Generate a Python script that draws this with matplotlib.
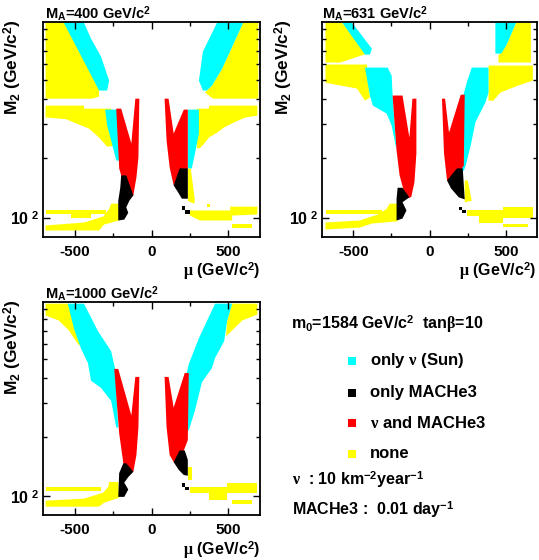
import matplotlib.pyplot as plt
from matplotlib.patches import Rectangle
from matplotlib.ticker import FixedLocator, FixedFormatter, NullFormatter

plt.rcParams['font.family'] = ['Liberation Sans', 'DejaVu Sans']
plt.rcParams['font.weight'] = 'bold'
plt.rcParams['mathtext.fontset'] = 'custom'
plt.rcParams['mathtext.rm'] = 'Liberation Sans:bold'
plt.rcParams['mathtext.bf'] = 'Liberation Sans:bold'
plt.rcParams['mathtext.sf'] = 'Liberation Sans:bold'
plt.rcParams['mathtext.it'] = 'Liberation Serif'

CYAN = '#00ffff'
BLACK = '#000000'
RED = '#ff0000'
YELLOW = '#ffff00'

# regions in the (mu, M2) plane, GeV/c2
# M_A = 400
ma400_none = [
    [(-688, 972), (-537, 972), (-341, 451), (-341, 411), (-386, 401), (-688, 401)],
    [(-688, 370), (-439, 370), (-439, 357), (-262, 357), (-236, 232), (-288, 229),
     (-341, 255), (-406, 283), (-557, 316), (-688, 322)],
    [(-262, 118), (-216, 118), (-210, 97), (-308, 92.5), (-341, 86.3), (-688, 86.3),
     (-688, 91.5), (-439, 94.7), (-314, 101.5), (-275, 111)],
    [(-688, 109), (-295, 109), (-295, 105), (-393, 105), (-393, 100.3), (-524, 100.3),
     (-524, 105), (-688, 105)],
    [(596, 972), (694, 972), (694, 401), (400, 401), (347, 431), (393, 467), (459, 569)],
    [(373, 370), (688, 370), (688, 329), (609, 322), (544, 306), (472, 287), (426, 270),
     (373, 255), (341, 237), (314, 225), (295, 225), (295, 357), (373, 357)],
    [(236, 178), (255, 178), (282, 122), (275, 118), (236, 122)],
    [(360, 118), (380, 118), (380, 113), (360, 113)],
    [(511, 114), (688, 114), (688, 104), (524, 102.7), (524, 97), (314, 97),
     (249, 102.7), (249, 109), (511, 109)],
    [(524, 93.6), (655, 93.6), (655, 89.3), (524, 89.3)],
]
ma400_sun = [
    [(-570, 972), (-439, 972), (-393, 807), (-328, 655), (-275, 495), (-288, 441),
     (-341, 441), (-374, 495)],
    [(-301, 353), (-223, 353), (-203, 195), (-229, 195), (-262, 246), (-288, 293)],
    [(426, 972), (596, 972), (459, 569), (393, 467), (360, 441), (334, 441), (308, 495),
     (334, 694)],
    [(236, 353), (308, 353), (308, 267), (282, 211), (262, 178), (236, 178)],
]
ma400_both = [
    [(-229, 357), (-197, 357), (-131, 238), (-105, 401), (-79, 401), (-85, 202),
     (-98, 160), (-118, 130), (-131, 127), (-197, 164), (-210, 178)],
    [(85, 401), (111, 401), (144, 267), (210, 353), (236, 353), (236, 178),
     (183, 170), (144, 146), (118, 180), (98, 246)],
]
ma400_mache3 = [
    [(-197, 164), (-164, 164), (-118, 130), (-144, 122), (-164, 113), (-151, 106),
     (-177, 98), (-216, 97), (-216, 122), (-203, 142)],
    [(183, 178), (236, 178), (236, 125), (197, 125), (177, 133), (144, 146)],
    [(197, 115), (216, 115), (216, 110), (197, 110)],
    [(216, 110), (249, 110), (249, 105), (216, 105)],
]

# M_A = 631
ma631_none = [
    [(-682, 972), (-572, 972), (-410, 678), (-585, 611), (-682, 611)],
    [(-682, 597), (-410, 597), (-391, 406), (-423, 392), (-475, 451), (-682, 483)],
    [(-261, 118), (-209, 118), (-209, 96), (-378, 93.6), (-456, 89.3), (-682, 87.3),
     (-682, 94.7), (-456, 97), (-339, 104), (-281, 111)],
    [(-682, 110), (-313, 110), (-313, 105), (-682, 105)],
    [(568, 972), (665, 972), (665, 611), (452, 611), (452, 662), (503, 744)],
    [(387, 590), (678, 590), (678, 495), (581, 467), (465, 431), (419, 392), (387, 392)],
    [(231, 154.5), (251, 154.5), (277, 122), (231, 120)],
    [(484, 113), (678, 113), (678, 100.3), (484, 100.3), (484, 94.7), (322, 94.7),
     (322, 102.7), (244, 102.7), (244, 109), (484, 109)],
    [(484, 93.6), (646, 93.6), (646, 90.4), (484, 90.4)],
]
ma631_sun = [
    [(-572, 972), (-508, 972), (-378, 718), (-391, 670), (-423, 670)],
    [(-423, 576), (-274, 576), (-248, 524), (-242, 416), (-216, 219), (-248, 293),
     (-281, 337), (-371, 370), (-391, 416)],
    [(432, 972), (568, 972), (503, 744), (471, 678), (432, 678)],
    [(277, 576), (387, 576), (387, 431), (367, 384), (302, 306), (270, 232), (238, 184),
     (225, 173), (212, 173), (218, 406), (244, 483)],
]
ma631_both = [
    [(-242, 416), (-177, 416), (-132, 255), (-112, 401), (-86, 401), (-86, 211),
     (-99, 151), (-119, 128), (-132, 126), (-164, 133), (-196, 164), (-216, 219)],
    [(82, 401), (102, 401), (128, 270), (205, 420), (231, 420), (225, 184),
     (160, 154.5), (115, 154.5), (95, 213)],
]
ma631_mache3 = [
    [(-209, 142), (-177, 142), (-132, 127), (-177, 120), (-151, 109), (-177, 99.2),
     (-216, 97), (-216, 125)],
    [(180, 178), (218, 178), (231, 124), (192, 127), (141, 141), (115, 154.5)],
    [(192, 113), (212, 113), (212, 110), (192, 110)],
    [(212, 110), (238, 110), (238, 106), (212, 106)],
]

# M_A = 1000
ma1000_none = [
    [(-688, 961), (-537, 961), (-452, 576), (-478, 597), (-537, 702), (-603, 789),
     (-688, 836)],
    [(-275, 118), (-216, 118), (-210, 98), (-308, 92.5), (-341, 88.3), (-688, 88.3),
     (-688, 94.7), (-439, 97), (-314, 104), (-282, 111)],
    [(-688, 111), (-328, 111), (-328, 106), (-688, 106)],
    [(524, 961), (688, 961), (688, 846), (590, 789), (524, 702), (485, 655), (491, 780)],
    [(236, 141), (262, 141), (262, 121), (236, 121)],
    [(491, 117), (688, 117), (688, 104), (491, 104), (491, 96), (373, 96), (373, 104),
     (249, 104), (249, 111), (491, 111)],
    [(524, 96), (655, 96), (655, 91.5), (524, 91.5)],
]
ma1000_sun = [
    [(-544, 961), (-439, 961), (-347, 694), (-262, 549), (-236, 446), (-216, 224),
     (-229, 224), (-262, 306), (-328, 357), (-393, 388), (-413, 478), (-459, 569),
     (-504, 718)],
    [(413, 961), (524, 961), (491, 780), (472, 618), (413, 507), (393, 451), (328, 382),
     (282, 273), (242, 216), (229, 216), (229, 425), (242, 472), (308, 640)],
]
ma1000_both = [
    [(-242, 446), (-216, 446), (-131, 258), (-105, 406), (-79, 406), (-85, 224),
     (-98, 162), (-118, 133), (-138, 133), (-183, 147), (-210, 209)],
    [(85, 406), (111, 406), (144, 283), (216, 425), (242, 425), (236, 193),
     (210, 171), (144, 149), (118, 162), (98, 224)],
]
ma1000_mache3 = [
    [(-183, 147), (-164, 147), (-118, 133), (-151, 125), (-177, 117), (-151, 108),
     (-177, 99), (-216, 99), (-210, 131)],
    [(183, 171), (216, 171), (236, 153), (236, 127), (210, 128), (177, 136), (144, 149)],
    [(197, 117), (216, 117), (216, 111), (197, 111)],
    [(216, 111), (242, 111), (242, 107), (216, 107)],
]

panel_titles = ['M$_\\mathrm{A}$=400 GeV/c$^2$', 'M$_\\mathrm{A}$=631 GeV/c$^2$',
                'M$_\\mathrm{A}$=1000 GeV/c$^2$']
mu_ticks = [-500, 0, 500]
mu_ticklabels = ['-500', '0', '500']

legend_labels = ['only $\\nu$ (Sun)', 'only MACHe3', '$\\nu$ and MACHe3', 'none']
legend_colors = [CYAN, BLACK, RED, YELLOW]

W, H = 539, 560
fig = plt.figure(figsize=(W / 100, H / 100), dpi=100)


def px_axes(left, top, right, bottom):
    return fig.add_axes([left / W, 1 - bottom / H, (right - left) / W, (bottom - top) / H])


def draw_panel(ax, none, sun, both, mache3):
    for polys, col in [(none, YELLOW), (sun, CYAN), (both, RED), (mache3, BLACK)]:
        for p in polys:
            mu, m2 = zip(*p)
            ax.fill(mu, m2, color=col, lw=0)
    ax.set_yscale('log')
    ax.set_xlim(-705, 705)
    ax.set_ylim(80, 980)
    ax.xaxis.set_major_locator(FixedLocator(mu_ticks))
    ax.xaxis.set_major_formatter(FixedFormatter(mu_ticklabels))
    ax.xaxis.set_minor_locator(FixedLocator([-250, 250]))
    ax.yaxis.set_major_locator(FixedLocator([100]))
    ax.yaxis.set_major_formatter(FixedFormatter(['10$^{\\ 2}$']))
    ax.yaxis.set_minor_locator(FixedLocator(list(range(200, 1000, 100))))
    ax.yaxis.set_minor_formatter(NullFormatter())
    ax.tick_params(which='both', direction='in', top=True, right=True, width=1,
                   labelsize=11.5)
    ax.tick_params(which='major', length=5)
    ax.tick_params(which='minor', length=3)
    ax.tick_params(axis='x', which='major', pad=6, labelsize=11)
    ax.tick_params(axis='y', which='major', pad=3)
    for s in ax.spines.values():
        s.set_linewidth(1.3)


ax1 = px_axes(43, 22, 260, 237)
ax2 = px_axes(322, 22, 537, 237)
ax3 = px_axes(43, 302, 260, 515)
draw_panel(ax1, ma400_none, ma400_sun, ma400_both, ma400_mache3)
draw_panel(ax2, ma631_none, ma631_sun, ma631_both, ma631_mache3)
draw_panel(ax3, ma1000_none, ma1000_sun, ma1000_both, ma1000_mache3)

# overlay in pixel units for the free texts
lax = fig.add_axes([0, 0, 1, 1])
lax.set_xlim(0, W)
lax.set_ylim(H, 0)
lax.axis('off')

for (x0, y0), title in zip([(45, 19), (322, 19), (45, 299)], panel_titles):
    lax.text(x0, y0, title, fontsize=10.5, ha='left', va='baseline')

for x0, y0 in [(13, 19), (284, 19), (13, 299)]:
    lax.text(x0, y0, 'M$_2$ (GeV/c$^2$)', fontsize=12.5, rotation=90, ha='center', va='top')

for x0, y0 in [(260, 276), (536, 276), (260, 555)]:
    lax.text(x0, y0, '$\\mu$ (GeV/c$^2$)', fontsize=11.5, ha='right', va='baseline')

lax.text(291, 324, 'm$_0$=1584 GeV/c$^2$  tan$\\beta$=10', fontsize=11.5, ha='left', va='center')
for i, (lab, col) in enumerate(zip(legend_labels, legend_colors)):
    y0 = [361, 393, 423, 454][i]
    lax.add_patch(Rectangle((348, y0 - 4), 8, 8, color=col, lw=0))
    lax.text(370, y0, lab, fontsize=12, ha='left', va='center')
lax.text(292, 479, '$\\nu$  : 10 km$^{-2}$year$^{-1}$', fontsize=11.5, ha='left', va='center')
lax.text(292, 510, 'MACHe3 :  0.01 day$^{-1}$', fontsize=11.5, ha='left', va='center')

fig.savefig('out.png', dpi=100)
